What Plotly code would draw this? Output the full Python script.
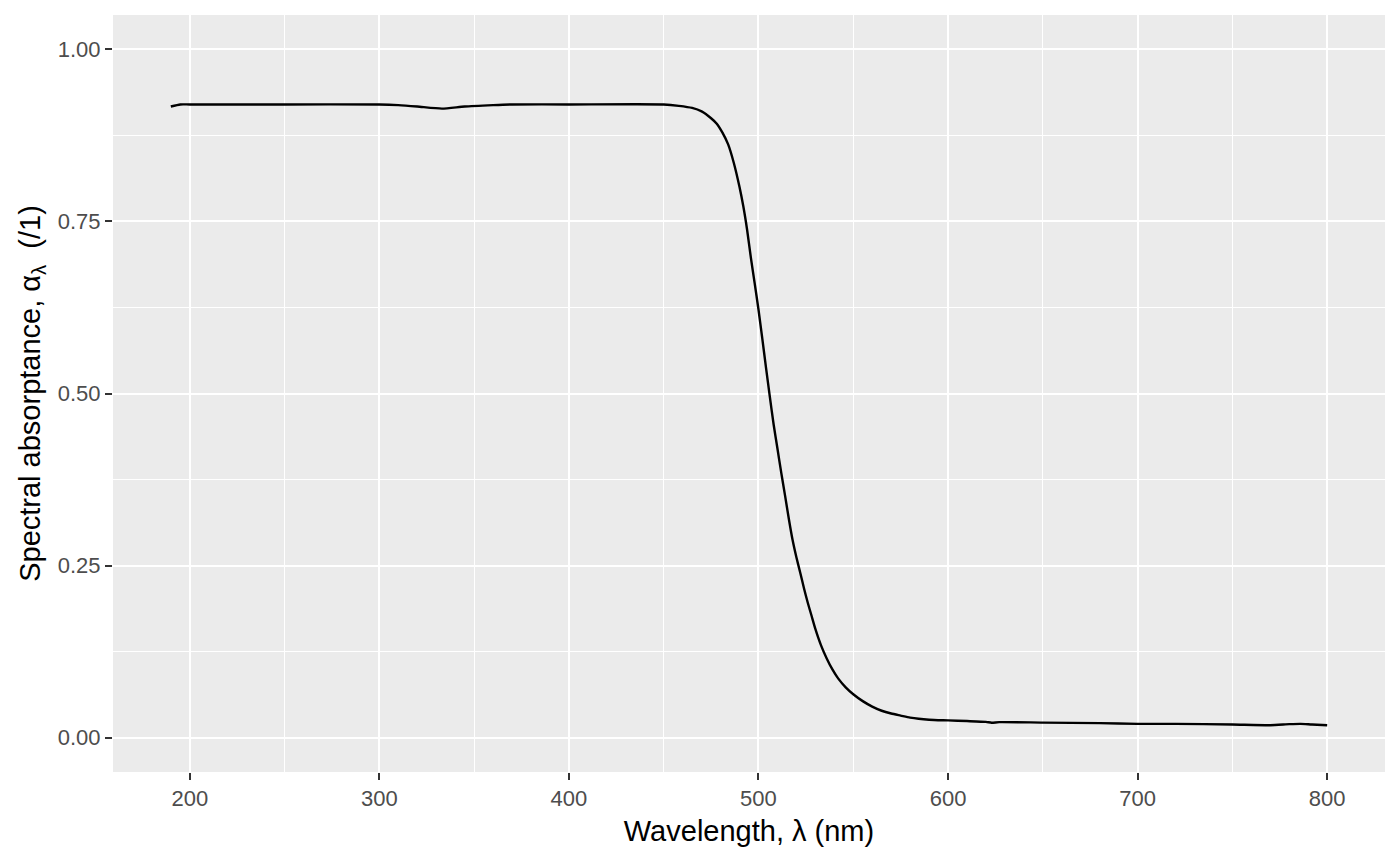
import plotly.graph_objects as go

# Spectral absorptance
wavelength = [190, 195, 200, 250, 300, 310, 320, 333, 345, 360, 370, 400, 450,
              458, 465, 470, 475, 478, 481, 484, 487, 490, 492, 494, 496, 498,
              500, 502, 504, 506, 508, 510, 512, 514, 516, 518, 520, 522, 524,
              526, 528, 530, 533, 536, 539, 542, 546, 550, 555, 560, 565, 570,
              575, 580, 590, 600, 610, 620, 623, 627, 650, 680, 700, 720, 750,
              770, 780, 786, 792, 800]
absorptance = [0.917, 0.920, 0.920, 0.920, 0.920, 0.919, 0.917, 0.914, 0.917,
               0.919, 0.920, 0.920, 0.920,
               0.918, 0.915, 0.910, 0.900, 0.892, 0.879, 0.862, 0.835, 0.800,
               0.772, 0.738, 0.697, 0.660,
               0.622, 0.580, 0.537, 0.495, 0.455, 0.420, 0.385, 0.352, 0.318,
               0.287, 0.262, 0.240, 0.217,
               0.196, 0.177, 0.158, 0.134, 0.115, 0.099, 0.086, 0.073, 0.063,
               0.053, 0.045, 0.039, 0.035,
               0.032, 0.029, 0.026, 0.025, 0.024, 0.0228, 0.0216, 0.0225, 0.0218,
               0.021, 0.020, 0.020, 0.019,
               0.018, 0.0195, 0.020, 0.019, 0.018]

x_ticks = [200, 300, 400, 500, 600, 700, 800]
y_ticks = [0.00, 0.25, 0.50, 0.75, 1.00]

fig = go.Figure()
fig.add_trace(go.Scatter(
    x=wavelength, y=absorptance, mode="lines",
    line=dict(color="black", width=2.4, shape="spline", smoothing=0.6),
    hoverinfo="skip", showlegend=False,
))

axis_common = dict(
    showgrid=True, gridcolor="white", gridwidth=2.2,
    zeroline=False, showline=False,
    ticks="outside", ticklen=7, tickwidth=2.2, tickcolor="#333333",
    tickfont=dict(family="Liberation Sans, Arial", size=22, color="#4D4D4D"),
)

fig.update_xaxes(
    range=[159.5, 830.5], tickvals=x_ticks,
    minor=dict(dtick=50, tick0=150, showgrid=True, gridcolor="white", gridwidth=1.1, ticks=""),
    title=dict(text="Wavelength, λ (nm)", standoff=10,
               font=dict(family="Liberation Sans, Arial", size=29, color="black")),
    **axis_common,
)
fig.update_yaxes(
    range=[-0.05, 1.05], tickvals=y_ticks, tickformat=".2f",
    minor=dict(dtick=0.125, tick0=0.125, showgrid=True, gridcolor="white", gridwidth=1.1, ticks=""),
    title=dict(text="Spectral absorptance, α<sub>λ</sub>&nbsp; (/1)", standoff=8,
               font=dict(family="Liberation Sans, Arial", size=29, color="black")),
    **axis_common,
)

# the page adds an 8px body margin, so the figure is drawn slightly smaller
fig.update_layout(
    width=1392, height=858,
    paper_bgcolor="white", plot_bgcolor="#EBEBEB",
    margin=dict(l=105, r=15, t=7, b=94),
)

fig.write_html("out.html")
